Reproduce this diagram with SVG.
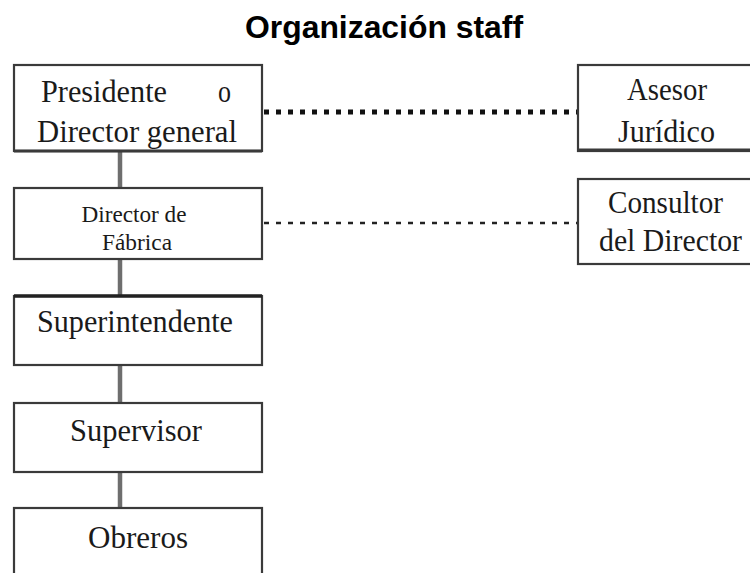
<svg xmlns="http://www.w3.org/2000/svg" width="750" height="573" viewBox="0 0 750 573">
  <style>
    .box { fill: #ffffff; stroke: #3a3a3a; stroke-width: 2.2; }
    .lbl { font-family: "Liberation Serif", "Times New Roman", serif; font-size: 31px; fill: #1a1a1a; }
    .sm { font-size: 23px; }
    .title { font-family: "Liberation Sans", Arial, sans-serif; font-weight: bold; font-size: 31px; fill: #000; }
    .chain { stroke: #6e6e6e; stroke-width: 4.5; fill: none; }
    .staff1 { stroke: #111; stroke-width: 5; stroke-dasharray: 5 7; fill: none; }
    .staff2 { stroke: #222; stroke-width: 2.5; stroke-dasharray: 5 7; fill: none; }
  </style>

  <rect width="750" height="573" fill="#ffffff"/>

  <text class="title" x="384" y="38" text-anchor="middle" textLength="278" lengthAdjust="spacingAndGlyphs">Organización staff</text>

  <!-- line and staff connectors -->
  <g id="connectors">
    <line class="chain" x1="120" y1="152" x2="120" y2="188"/>
    <line class="chain" x1="120" y1="259" x2="120" y2="296"/>
    <line class="chain" x1="120" y1="365" x2="120" y2="403"/>
    <line class="chain" x1="120" y1="472" x2="120" y2="508"/>
    <line class="staff1" x1="264" y1="112" x2="577" y2="112"/>
    <line class="staff2" x1="264" y1="223" x2="577" y2="223"/>
  </g>

  <g id="presidente">
    <rect class="box" x="14" y="65" width="248" height="86"/>
    <line x1="14" y1="151" x2="262" y2="151" stroke="#3a3a3a" stroke-width="3"/>
    <text class="lbl" x="41" y="102" textLength="126" lengthAdjust="spacingAndGlyphs">Presidente</text>
    <text class="lbl" x="218" y="102" textLength="13" lengthAdjust="spacingAndGlyphs">o</text>
    <text class="lbl" x="37" y="142" textLength="200" lengthAdjust="spacingAndGlyphs">Director general</text>
  </g>

  <g id="director-fabrica">
    <rect class="box" x="14" y="188" width="248" height="71"/>
    <text class="lbl sm" x="134" y="222" text-anchor="middle" textLength="105" lengthAdjust="spacingAndGlyphs">Director de</text>
    <text class="lbl sm" x="137" y="250" text-anchor="middle" textLength="70" lengthAdjust="spacingAndGlyphs">Fábrica</text>
  </g>

  <g id="superintendente">
    <rect class="box" x="14" y="296" width="248" height="69"/>
    <line x1="14" y1="296" x2="262" y2="296" stroke="#222" stroke-width="3.5"/>
    <text class="lbl" x="37" y="332" textLength="196" lengthAdjust="spacingAndGlyphs">Superintendente</text>
  </g>

  <g id="supervisor">
    <rect class="box" x="14" y="403" width="248" height="69"/>
    <text class="lbl" x="70" y="441" textLength="132" lengthAdjust="spacingAndGlyphs">Supervisor</text>
  </g>

  <g id="obreros">
    <rect class="box" x="14" y="508" width="248" height="80"/>
    <text class="lbl" x="88" y="548" textLength="100" lengthAdjust="spacingAndGlyphs">Obreros</text>
  </g>

  <g id="asesor-juridico">
    <rect class="box" x="578" y="65" width="190" height="86"/>
    <line x1="578" y1="150" x2="760" y2="150" stroke="#3a3a3a" stroke-width="3"/>
    <text class="lbl" x="627" y="100" textLength="80" lengthAdjust="spacingAndGlyphs">Asesor</text>
    <text class="lbl" x="618" y="142" textLength="97" lengthAdjust="spacingAndGlyphs">Jurídico</text>
  </g>

  <g id="consultor-director">
    <rect class="box" x="578" y="179" width="190" height="85"/>
    <text class="lbl" x="608" y="213" textLength="115" lengthAdjust="spacingAndGlyphs">Consultor</text>
    <text class="lbl" x="599" y="251" textLength="143" lengthAdjust="spacingAndGlyphs">del Director</text>
  </g>
</svg>
